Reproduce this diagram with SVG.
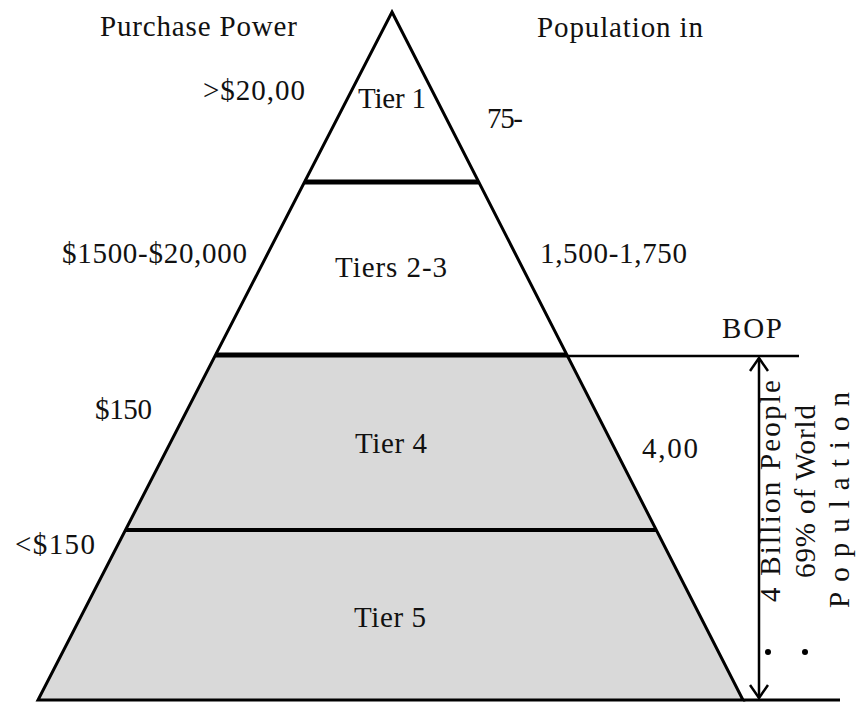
<svg xmlns="http://www.w3.org/2000/svg" width="858" height="707" viewBox="0 0 858 707">
<defs>
<style>
text{font-family:"Liberation Serif","Times New Roman",serif;font-size:29px;fill:#111}
.edge{stroke:#000;stroke-width:3;fill:none;stroke-linejoin:miter}
.sep{stroke:#000;stroke-width:5}
.rule{stroke:#000;stroke-width:2.5}
</style>
<marker id="open" viewBox="0 0 20 20" refX="18" refY="10" markerWidth="20" markerHeight="20" markerUnits="userSpaceOnUse" orient="auto-start-reverse">
<path d="M5,1 L18,10 L5,19" fill="none" stroke="#000" stroke-width="2.5"/>
</marker>
</defs>
<rect width="858" height="707" fill="#fff"/>

<g id="tier1">
<polygon points="392,12 304.5,182 478.7,182" fill="#fff"/>
<text x="358" y="108" textLength="68">Tier 1</text>
</g>
<g id="tiers23">
<polygon points="304.5,182 478.7,182 567,355 215.5,355" fill="#fff"/>
<text x="335" y="277" textLength="112">Tiers 2-3</text>
</g>
<g id="tier4">
<polygon points="215.5,355 567,355 656,530 125.5,530" fill="#d9d9d9"/>
<text x="355" y="453" textLength="72">Tier 4</text>
</g>
<g id="tier5">
<polygon points="125.5,530 656,530 743,700 38,700" fill="#d9d9d9"/>
<text x="354" y="627" textLength="72">Tier 5</text>
</g>
<g id="outline">
<polygon class="edge" points="392,12 743,700 38,700"/>
<line class="sep" x1="304.5" y1="182" x2="478.7" y2="182"/>
<line class="sep" x1="215.5" y1="355" x2="567" y2="355"/>
<line class="sep" x1="125.5" y1="530" x2="656" y2="530" style="stroke-width:4"/>
</g>

<g id="purchase-labels">
<text x="100" y="36" textLength="197">Purchase Power</text>
<text x="203" y="100" textLength="102">&gt;$20,00</text>
<text x="62" y="263" textLength="185">$1500-$20,000</text>
<text x="95" y="419" textLength="57">$150</text>
<text x="15" y="554" textLength="80">&lt;$150</text>
</g>
<g id="population-labels">
<text x="537" y="37" textLength="166">Population in</text>
<text x="487" y="128" textLength="36">75-</text>
<text x="540" y="263" textLength="147">1,500-1,750</text>
<text x="642" y="458" textLength="56">4,00</text>
</g>

<g id="bop">
<text x="722" y="338" textLength="60">BOP</text>
<line class="rule" x1="567" y1="356" x2="799" y2="356"/>
<line class="rule" x1="743" y1="700" x2="840" y2="700" style="stroke-width:3"/>
<g transform="translate(780,602) rotate(-90)"><text x="0" y="0" font-size="29" textLength="222">4 Billion People</text></g>
<g transform="translate(815,578) rotate(-90)"><text x="0" y="0" font-size="29" textLength="173">69% of World</text></g>
<g transform="translate(849,608) rotate(-90)"><text x="0" y="0" font-size="30" textLength="216">Population</text></g>
<circle cx="768" cy="652" r="3" fill="#000"/>
<circle cx="805" cy="652" r="3" fill="#000"/>
</g>

<g id="connectors">
<line x1="759" y1="358" x2="759" y2="698" stroke="#000" stroke-width="2.5" marker-start="url(#open)" marker-end="url(#open)"/>
</g>
</svg>
